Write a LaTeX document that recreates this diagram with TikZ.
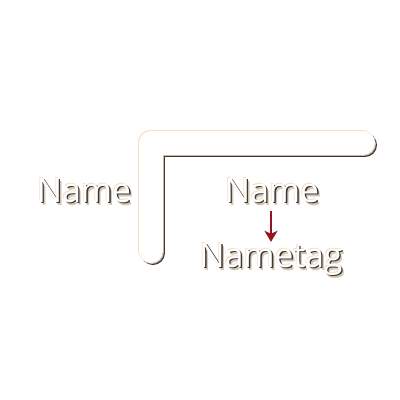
\documentclass[tikz,border=0pt]{standalone}
\usepackage{fontspec}
\usepackage{tikz}
\usepackage{xcolor}
\usetikzlibrary{arrows.meta}
\newfontfamily\labelfont{Open Sans}
\definecolor{barpeach}{RGB}{250,222,196}
\definecolor{bartan}{RGB}{205,182,160}
\definecolor{bardark}{RGB}{55,55,55}
\definecolor{textglow}{RGB}{215,200,180}
\definecolor{arrowred}{RGB}{150,20,30}
\newcommand{\embossed}[1]{%
    \makebox[0pt][l]{\hspace{2.6pt}\raisebox{-3pt}[0pt][0pt]{\color{textglow}#1}}%
    \makebox[0pt][l]{\hspace{-0.9pt}\raisebox{0.9pt}[0pt][0pt]{\color{barpeach}#1}}%
    \makebox[0pt][l]{\hspace{1.3pt}\raisebox{-1.3pt}[0pt][0pt]{\color{bardark}#1}}%
    {\color{white}#1}}
\tikzset{
    bar-stroke/.style = {line width=24pt, line cap=round, line join=round},
    emboss-label/.style = {inner sep=0pt, anchor=base, font=\labelfont\fontsize{33.6}{40}\selectfont},
    tag-arrow/.style = {draw=arrowred, line width=2pt, -{Stealth[length=11pt, width=13pt, inset=3pt]}, shorten <=8pt, shorten >=1pt},
}
\begin{document}
\begin{tikzpicture}[x=1pt, y=-1pt]
\useasboundingbox (0,0) rectangle (400,400);
% bracket shape
\draw[bar-stroke, draw=barpeach] (150.2,250.2) -- (150.2,142.2) -- (362.2,142.2);
\draw[bar-stroke, draw=bardark] (153,253) -- (153,145) -- (365,145);
\draw[bar-stroke, draw=bartan] (152,252) -- (152,144) -- (364,144);
\draw[bar-stroke, draw=white] (151,251) -- (151,143) -- (363,143);
% labels
\node[emboss-label] (name1) at (84,202) {\embossed{Name}};
\node[emboss-label] (name2) at (272,202) {\embossed{Name}};
\node[emboss-label] (tag) at (271,267) {\embossed{Nametag}};
\draw[tag-arrow] (tag.north |- name2.south) -- (tag.north);
\end{tikzpicture}
\end{document}
